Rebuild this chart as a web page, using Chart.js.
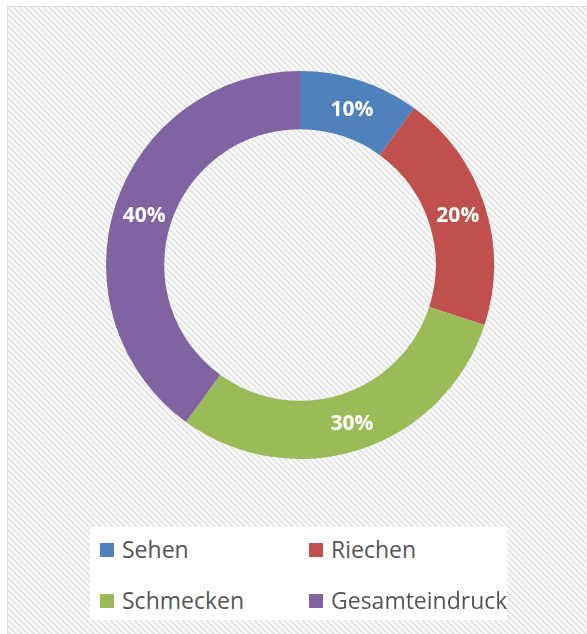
<!DOCTYPE html>
<html>
<head>
<meta charset="utf-8">
<script src="https://cdn.jsdelivr.net/npm/chart.js@4"></script>
<style>
html,body{margin:0;padding:0;background:#fff;}
#wrap{position:relative;width:587px;height:634px;overflow:hidden;}
#frame{position:absolute;left:7px;top:6px;width:600px;height:650px;border:1px solid #d9d9d9;box-sizing:border-box;}
canvas{position:absolute;left:0;top:0;}
#legend{position:absolute;left:90px;top:527px;width:417px;height:93px;background:#fff;
font-family:"Open Sans",sans-serif;font-size:23px;color:#555;}
.item{position:absolute;white-space:nowrap;line-height:24px;}
.item span.box{display:inline-block;width:14px;height:14px;margin-right:8px;vertical-align:1px;}
</style>
</head>
<body>
<div id="wrap">
<canvas id="chart" width="587" height="634"></canvas>
<div id="frame"></div>
<div id="legend"></div>
</div>
<script>

let labels = ["Sehen","Riechen","Schmecken","Gesamteindruck"];
let values = [10,20,30,40];
let colors = ["#4f81bd","#c0504d","#9bbb59","#8064a2"];

/* hatch background */
function makePattern(ctx){
let p = document.createElement("canvas");
p.width = 6; p.height = 6;
let c = p.getContext("2d");
c.fillStyle = "#fbfbfb";
c.fillRect(0,0,6,6);
c.strokeStyle = "#e6e6e6";
c.lineWidth = 2;
c.beginPath();
c.moveTo(-1,-1); c.lineTo(7,7);
c.moveTo(5,-1); c.lineTo(7,1);
c.moveTo(-1,5); c.lineTo(1,7);
c.stroke();
return ctx.createPattern(p,"repeat");
}

const bgPlugin = {
id:"bg",
beforeDraw:function(chart){
let ctx = chart.ctx;
ctx.save();
ctx.fillStyle = "#fff";
ctx.fillRect(0,0,chart.width,chart.height);
ctx.fillStyle = makePattern(ctx);
ctx.fillRect(8,7,chart.width,chart.height);
ctx.restore();
}
};

const labelPlugin = {
id:"pctLabels",
afterDatasetsDraw:function(chart){
let ctx = chart.ctx;
let meta = chart.getDatasetMeta(0);
let total = values.reduce((a,b)=>a+b,0);
ctx.save();
ctx.fillStyle = "#fff";
ctx.font = "bold 21px 'Open Sans', sans-serif";
ctx.textAlign = "center";
ctx.textBaseline = "middle";
meta.data.forEach(function(arc,i){
let pos = arc.tooltipPosition();
ctx.fillText(Math.round(values[i]/total*100)+"%", pos.x+1, pos.y+2);
});
ctx.restore();
}
};

new Chart(document.getElementById("chart"),{
type:'doughnut',
data:{
labels:labels,
datasets:[{
data:values,
backgroundColor:colors,
borderWidth:0
}]
},
options:{
responsive:false,
animation:false,
cutout:'70%',
layout:{padding:{left:106,right:93,top:71,bottom:175}},
plugins:{
legend:{display:false},
tooltip:{enabled:false}
}
},
plugins:[bgPlugin,labelPlugin]
});

/* legend, 2 x 2 */
let pos = [[10,10],[219,10],[10,61],[219,61]];
let leg = document.getElementById("legend");
labels.forEach(function(l,i){
let d = document.createElement("div");
d.className = "item";
d.style.left = pos[i][0]+"px";
d.style.top = pos[i][1]+"px";
d.innerHTML = '<span class="box" style="background:'+colors[i]+'"></span>'+l;
leg.appendChild(d);
});
</script>
</body>
</html>
